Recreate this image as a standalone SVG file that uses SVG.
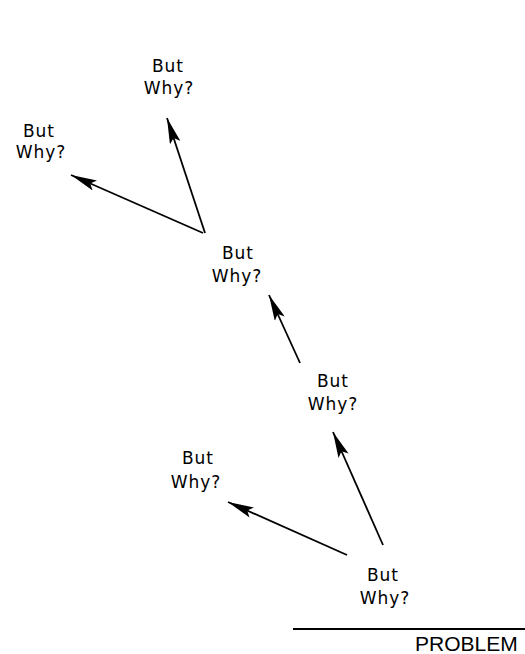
<svg xmlns="http://www.w3.org/2000/svg" width="525" height="654" viewBox="0 0 525 654">
  <style>
    .lbl { font-family: "DejaVu Sans", "Liberation Sans", sans-serif; font-size: 17px; letter-spacing: 1px; fill: #000; text-anchor: middle; }
    .edge { stroke: #000; stroke-width: 1.8; fill: none; marker-end: url(#head); }
    .prob { font-family: "Liberation Sans", Arial, sans-serif; font-size: 21px; fill: #000; }
  </style>
  <defs>
    <marker id="head" viewBox="0 0 26 11" refX="26" refY="5.5" markerWidth="26" markerHeight="11" markerUnits="userSpaceOnUse" orient="auto">
      <path d="M0,0 L26,5.5 L0,11 L5,5.5 Z" fill="#000"/>
    </marker>
  </defs>
  <rect width="525" height="654" fill="#fff"/>

  <g id="connectors">
    <line class="edge" x1="205" y1="233" x2="167" y2="118"/>
    <line class="edge" x1="203" y1="233" x2="71" y2="175"/>
    <line class="edge" x1="300" y1="363" x2="269" y2="295"/>
    <line class="edge" x1="383" y1="545" x2="333" y2="432"/>
    <line class="edge" x1="347" y1="555" x2="228" y2="502"/>
  </g>

  <g id="node-top">
    <text class="lbl" x="168" y="72">But</text>
    <text class="lbl" x="169" y="94">Why?</text>
  </g>
  <g id="node-left">
    <text class="lbl" x="39" y="137">But</text>
    <text class="lbl" x="41" y="158">Why?</text>
  </g>
  <g id="node-mid">
    <text class="lbl" x="238" y="259">But</text>
    <text class="lbl" x="237" y="282">Why?</text>
  </g>
  <g id="node-right">
    <text class="lbl" x="333" y="387">But</text>
    <text class="lbl" x="333" y="410">Why?</text>
  </g>
  <g id="node-lower-left">
    <text class="lbl" x="198" y="464">But</text>
    <text class="lbl" x="196" y="488">Why?</text>
  </g>
  <g id="node-bottom">
    <text class="lbl" x="383" y="581">But</text>
    <text class="lbl" x="385" y="604">Why?</text>
  </g>

  <g id="problem">
    <line x1="293" y1="629" x2="525" y2="629" stroke="#000" stroke-width="2"/>
    <text class="prob" x="415" y="651">PROBLEM</text>
  </g>
</svg>
